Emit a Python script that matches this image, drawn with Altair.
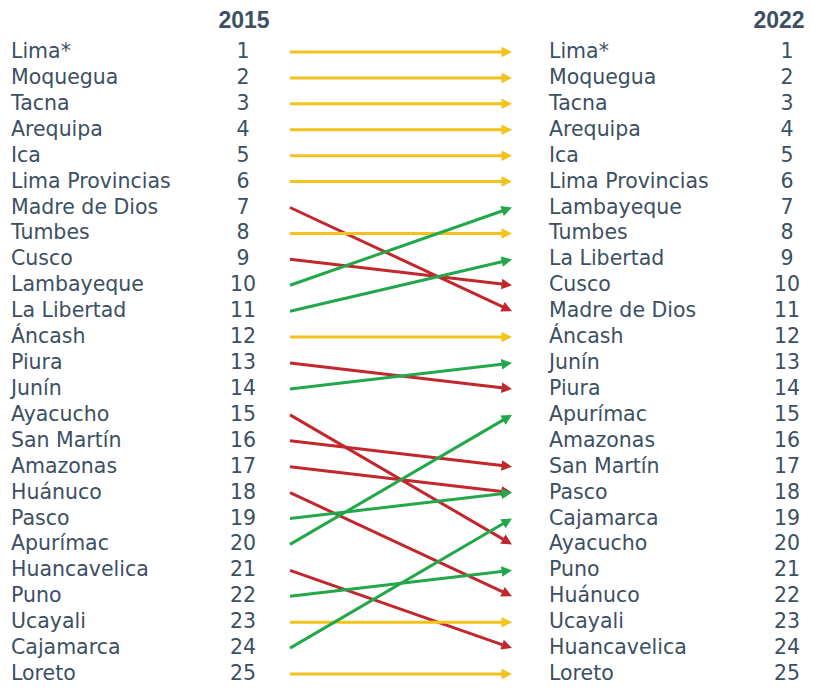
import math
import altair as alt
import pandas as pd

# ---- data ----
years = ["2015", "2022"]
ranks = list(range(1, 26))
regions_2015 = ["Lima*", "Moquegua", "Tacna", "Arequipa", "Ica", "Lima Provincias",
                "Madre de Dios", "Tumbes", "Cusco", "Lambayeque", "La Libertad", "Áncash",
                "Piura", "Junín", "Ayacucho", "San Martín", "Amazonas", "Huánuco", "Pasco",
                "Apurímac", "Huancavelica", "Puno", "Ucayali", "Cajamarca", "Loreto"]
regions_2022 = ["Lima*", "Moquegua", "Tacna", "Arequipa", "Ica", "Lima Provincias",
                "Lambayeque", "Tumbes", "La Libertad", "Cusco", "Madre de Dios", "Áncash",
                "Junín", "Piura", "Apurímac", "Amazonas", "San Martín", "Pasco", "Cajamarca",
                "Ayacucho", "Puno", "Huánuco", "Ucayali", "Huancavelica", "Loreto"]
# arrows as drawn: start rank (2015 row) -> end rank (2022 row)
arrow_from = list(range(1, 26))
arrow_to = [1, 2, 3, 4, 5, 6, 11, 8, 10, 7, 9, 12, 14, 13, 20, 17, 18, 22, 18, 15,
            24, 21, 23, 19, 25]

# ---- styling / layout ----
W, H = 798, 679
Y_RANGE = [44, 666]
TEXT = "#3d4f62"
FONT = "DejaVu Sans"
HFONT = "Liberation Sans"
COLORS = {"sube": "#22a84a", "igual": "#f3c21b", "baja": "#c1272d"}
X_START, X_TIP, HEAD = 282, 504, 6

px_per_rank = (Y_RANGE[1] - Y_RANGE[0]) / (ranks[-1] - ranks[0])

rows = []
for a, b in zip(arrow_from, arrow_to):
    dx = X_TIP - X_START
    dy = (b - a) * px_per_rank
    length = math.hypot(dx, dy)
    f = 1 - HEAD / length
    ang = math.degrees(math.atan2(dy, dx)) % 360
    change = "igual" if a == b else ("sube" if b < a else "baja")
    rows.append(dict(x1=X_START, x2=X_START + dx * f, r1=a, r2=a + (b - a) * f,
                     rt=b, xt=X_TIP, angle=ang, change=change))
arrows = pd.DataFrame(rows)

labels = pd.DataFrame({"rank": ranks, "n2015": regions_2015, "n2022": regions_2022})
heads = pd.DataFrame({"year": years, "x": [236, 771]})

xs = alt.Scale(domain=[0, W], range=[0, W])
ys = alt.Scale(domain=[ranks[0], ranks[-1]], range=Y_RANGE)
cs = alt.Scale(domain=list(COLORS.keys()), range=list(COLORS.values()))

lines = alt.Chart(arrows).mark_rule(strokeWidth=3).encode(
    x=alt.X("x1:Q", scale=xs, axis=None),
    x2="x2:Q",
    y=alt.Y("r1:Q", scale=ys, axis=None),
    y2="r2:Q",
    color=alt.Color("change:N", scale=cs, legend=None),
)
tips = alt.Chart(arrows).mark_point(
    shape="M0,0L-2,-1L-2,1Z", filled=True, opacity=1, size=110, strokeWidth=0
).encode(
    x=alt.X("xt:Q", scale=xs, axis=None),
    y=alt.Y("rt:Q", scale=ys, axis=None),
    angle=alt.Angle("angle:Q", scale=None),
    color=alt.Color("change:N", scale=cs, legend=None),
)

txt = dict(font=FONT, fontSize=20.5, color=TEXT, baseline="middle")
base = alt.Chart(labels)
left_names = base.mark_text(align="left", **txt).encode(
    x=alt.value(3), y=alt.Y("rank:Q", scale=ys, axis=None), text="n2015:N")
left_nums = base.mark_text(align="center", **txt).encode(
    x=alt.value(235), y=alt.Y("rank:Q", scale=ys, axis=None), text="rank:Q")
right_names = base.mark_text(align="left", **txt).encode(
    x=alt.value(541), y=alt.Y("rank:Q", scale=ys, axis=None), text="n2022:N")
right_nums = base.mark_text(align="center", **txt).encode(
    x=alt.value(779), y=alt.Y("rank:Q", scale=ys, axis=None), text="rank:Q")
header = alt.Chart(heads).mark_text(
    align="center", baseline="middle", font=HFONT, fontSize=23, fontWeight="bold", color=TEXT
).encode(x=alt.X("x:Q", scale=xs, axis=None), y=alt.value(13), text="year:N")

chart = alt.layer(lines, tips, left_names, left_nums, right_names, right_nums, header).properties(
    width=W, height=H, padding=0, autosize=alt.AutoSizeParams(type="none")
).configure_view(stroke=None)

chart.save("out.html", embed_options={"renderer": "svg", "actions": False})
